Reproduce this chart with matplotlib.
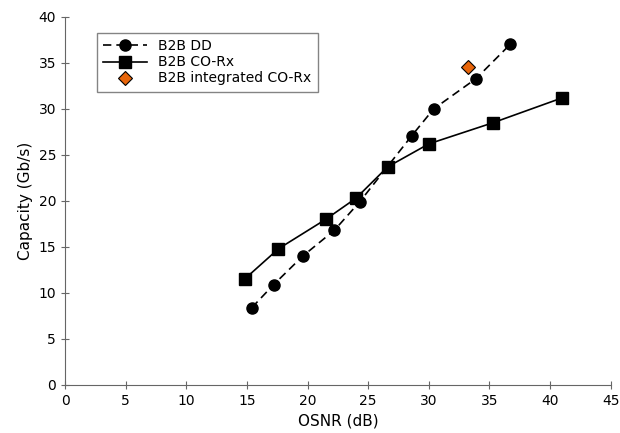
import matplotlib.pyplot as plt

dd_osnr = [15.4, 17.2, 19.6, 22.2, 24.3, 28.6, 30.4, 33.9, 36.7]
dd_cap = [8.4, 10.9, 14.0, 16.8, 19.9, 27.1, 30.0, 33.3, 37.0]

co_osnr = [14.8, 17.6, 21.5, 24.0, 26.6, 30.0, 35.3, 41.0]
co_cap = [11.5, 14.8, 18.0, 20.3, 23.7, 26.2, 28.5, 31.2]

int_osnr = [33.2]
int_cap = [34.6]

fig = plt.figure(figsize=(6.2, 4.33), dpi=100)
ax = fig.add_axes([0.105, 0.111, 0.88, 0.85])

ax.plot(dd_osnr, dd_cap, color="black", linestyle="--", dashes=(5, 3), linewidth=1.2,
        marker="o", markersize=8, label="B2B DD")
ax.plot(co_osnr, co_cap, color="black", linestyle="-", linewidth=1.2,
        marker="s", markersize=8, label="B2B CO-Rx")
ax.plot(int_osnr, int_cap, linestyle="none", marker="D", markersize=7.5, color="#e8650a",
        markeredgecolor="black", markeredgewidth=0.8, label="B2B integrated CO-Rx")

ax.set_xlim(0, 45)
ax.set_ylim(0, 40)
ax.set_xticks(range(0, 46, 5))
ax.set_yticks(range(0, 41, 5))
ax.spines["top"].set_visible(False)
ax.spines["right"].set_visible(False)
for s in ["left", "bottom"]:
    ax.spines[s].set_color("#666666")
ax.tick_params(direction="inout", length=6, color="#666666", labelsize=10)

ax.set_xlabel("OSNR (dB)", fontsize=11)
ax.set_ylabel("Capacity (Gb/s)", fontsize=11)

leg = ax.legend(loc="upper left", bbox_to_anchor=(0.045, 0.975), fontsize=10, fancybox=False,
                handlelength=3.2, borderpad=0.45, labelspacing=0.15)
leg.get_frame().set_edgecolor("#666666")

fig.savefig("out.png", dpi=100)
